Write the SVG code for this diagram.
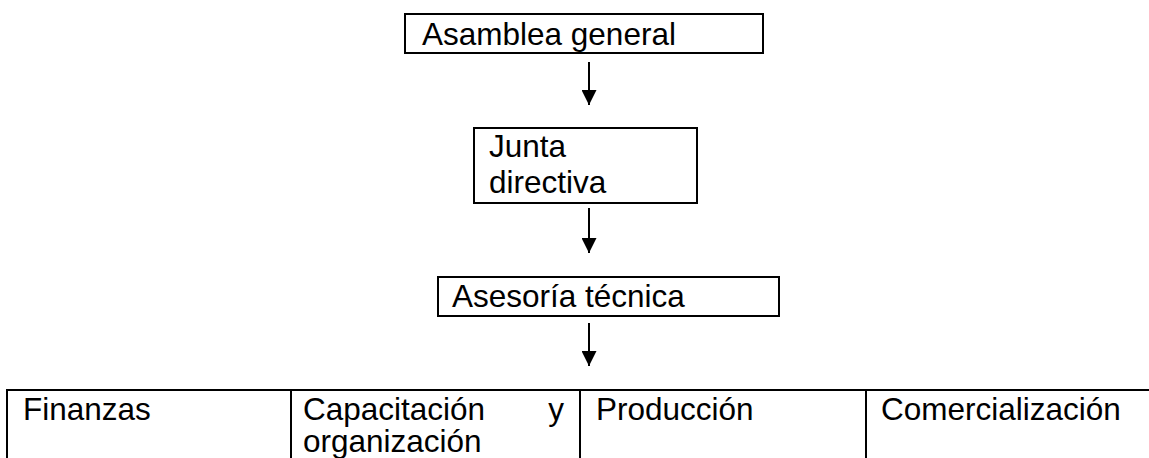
<svg xmlns="http://www.w3.org/2000/svg" width="1149" height="458" viewBox="0 0 1149 458">
<style>
.box{fill:#fff;stroke:#000;stroke-width:2}
.ln{stroke:#000;stroke-width:2;fill:none}
.t{font-family:"Liberation Sans",Arial,sans-serif;font-size:31.5px;fill:#000}
</style>
<defs>
<marker id="ah" markerWidth="16" markerHeight="15" refX="16" refY="8" orient="auto" markerUnits="userSpaceOnUse" viewBox="0 0 16 16">
<path d="M0,0 L16,8 L0,16 Z" fill="#000"/>
</marker>
</defs>
<rect width="1149" height="458" fill="#fff"/>
<g id="connectors">
<line class="ln" x1="589" y1="62" x2="589" y2="105" marker-end="url(#ah)"/>
<line class="ln" x1="589" y1="208" x2="589" y2="253" marker-end="url(#ah)"/>
<line class="ln" x1="589" y1="323" x2="589" y2="366" marker-end="url(#ah)"/>
</g>
<g id="asamblea">
<rect class="box" x="405" y="14" width="358" height="39"/>
<text class="t" x="422" y="45">Asamblea general</text>
</g>
<g id="junta">
<rect class="box" x="474" y="128" width="223" height="75"/>
<text class="t" x="489" y="157">Junta</text>
<text class="t" x="489" y="193">directiva</text>
</g>
<g id="asesoria">
<rect class="box" x="438" y="277" width="341" height="39"/>
<text class="t" x="452" y="307">Asesoría técnica</text>
</g>
<g id="tabla">
<line class="ln" x1="6" y1="390" x2="1149" y2="390"/>
<line class="ln" x1="7" y1="389" x2="7" y2="458"/>
<line class="ln" x1="291" y1="390" x2="291" y2="458"/>
<line class="ln" x1="580" y1="390" x2="580" y2="458"/>
<line class="ln" x1="866" y1="390" x2="866" y2="458"/>
</g>
<g id="finanzas">
<text class="t" x="23" y="420">Finanzas</text>
</g>
<g id="capacitacion">
<text class="t" x="303" y="420">Capacitación</text>
<text class="t" x="564" y="420" text-anchor="end">y</text>
<text class="t" x="303" y="452">organización</text>
</g>
<g id="produccion">
<text class="t" x="596" y="420">Producción</text>
</g>
<g id="comercializacion">
<text class="t" x="881" y="420">Comercialización</text>
</g>
</svg>
